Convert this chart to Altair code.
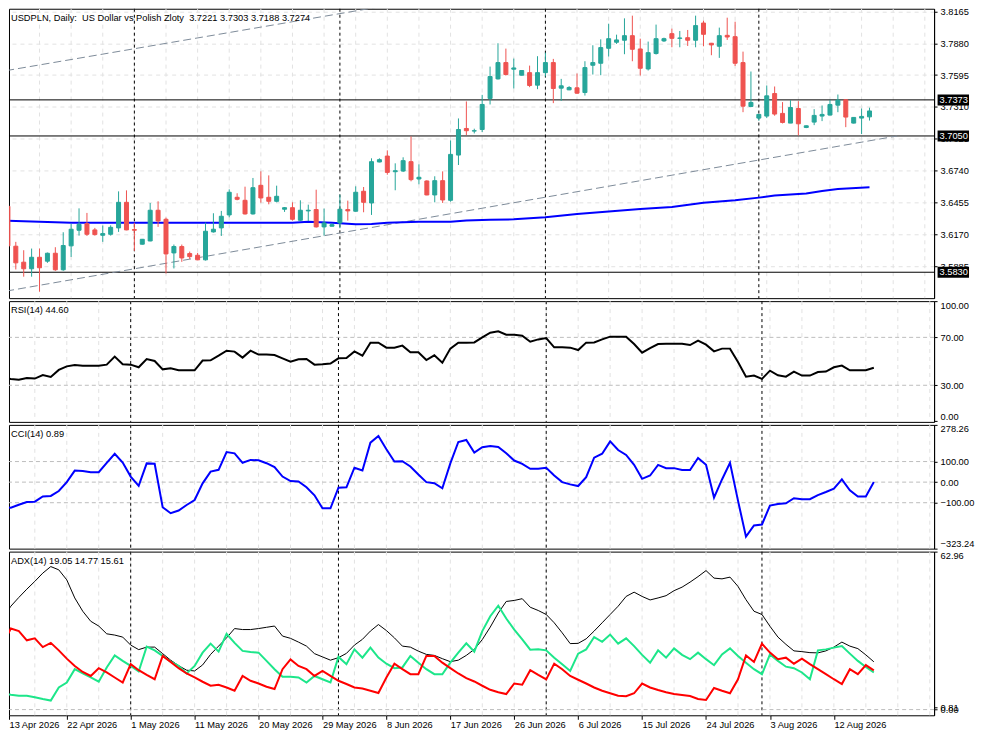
import json
import altair as alt
import pandas as pd

FONT = "Liberation Sans"
FS = 9.3
UP, DOWN = "#26a69a", "#ef5350"

TITLE = "USDPLN, Daily:\u00a0 US Dollar vs Polish Zloty\u00a0 3.7221 3.7303 3.7188 3.7274"
RSI_TITLE = "RSI(14) 44.60"
CCI_TITLE = "CCI(14) 0.89"
ADX_TITLE = "ADX(14) 19.05 14.77 15.61"

OPEN = [3.6420, 3.6063, 3.5920, 3.5861, 3.5964, 3.5929, 3.6000, 3.5852, 3.6066, 3.6206,
        3.6265, 3.6209, 3.6161, 3.6170, 3.6227, 3.6456, 3.6212, 3.6081, 3.6110, 3.6385,
        3.6304, 3.6003, 3.6060, 3.5997, 3.5982, 3.5941, 3.6191, 3.6227, 3.6343, 3.6501,
        3.6474, 3.6352, 3.6608, 3.6501, 3.6465, 3.6394, 3.6408, 3.6295, 3.6379, 3.6391,
        3.6236, 3.6242, 3.6271, 3.6391, 3.6376, 3.6555, 3.6450, 3.6817, 3.6870, 3.6730,
        3.6736, 3.6820, 3.6665, 3.6647, 3.6522, 3.6650, 3.6474, 3.6879, 3.7117, 3.7094,
        3.7108, 3.7386, 3.7561, 3.7707, 3.7648, 3.7594, 3.7617, 3.7505, 3.7617, 3.7707,
        3.7478, 3.7463, 3.7481, 3.7439, 3.7683, 3.7701, 3.7835, 3.7889, 3.7907, 3.7948,
        3.7829, 3.7650, 3.7788, 3.7901, 3.7966, 3.7924, 3.7930, 3.7907, 3.8061, 3.7880,
        3.7853, 3.7951, 3.7939, 3.7707, 3.7314, 3.7210, 3.7228, 3.7430, 3.7252, 3.7165,
        3.7296, 3.7126, 3.7174, 3.7228, 3.7237, 3.7326, 3.7374, 3.7165, 3.7210, 3.7221]
HIGH = [3.6430, 3.6102, 3.6027, 3.6042, 3.6042, 3.6006, 3.6054, 3.6188, 3.6265, 3.6402,
        3.6361, 3.6227, 3.6248, 3.6250, 3.6554, 3.6563, 3.6274, 3.6128, 3.6450, 3.6465,
        3.6319, 3.6078, 3.6078, 3.6015, 3.6003, 3.6274, 3.6358, 3.6379, 3.6572, 3.6537,
        3.6596, 3.6674, 3.6733, 3.6697, 3.6605, 3.6414, 3.6456, 3.6474, 3.6435, 3.6569,
        3.6400, 3.6268, 3.6525, 3.6471, 3.6599, 3.6593, 3.6850, 3.6850, 3.6921, 3.6805,
        3.6859, 3.7046, 3.6796, 3.6653, 3.6689, 3.6733, 3.7010, 3.7207, 3.7359, 3.7115,
        3.7418, 3.7671, 3.7880, 3.7832, 3.7743, 3.7639, 3.7680, 3.7764, 3.7796, 3.7740,
        3.7561, 3.7496, 3.7609, 3.7719, 3.7862, 3.7915, 3.8055, 3.7957, 3.8103, 3.8127,
        3.7921, 3.7895, 3.8047, 3.7930, 3.8011, 3.7990, 3.7999, 3.8127, 3.8082, 3.7883,
        3.8020, 3.8109, 3.8073, 3.7805, 3.7627, 3.7248, 3.7502, 3.7493, 3.7353, 3.7371,
        3.7362, 3.7144, 3.7290, 3.7323, 3.7374, 3.7421, 3.7377, 3.7219, 3.7296, 3.7303]
LOW = [3.6050, 3.5855, 3.5790, 3.5790, 3.5656, 3.5914, 3.5843, 3.5843, 3.5967, 3.6158,
       3.6155, 3.6158, 3.6102, 3.6158, 3.6191, 3.6206, 3.6021, 3.6078, 3.6107, 3.6236,
       3.5819, 3.5864, 3.5923, 3.5949, 3.5938, 3.5935, 3.6185, 3.6155, 3.6322, 3.6474,
       3.6346, 3.6346, 3.6453, 3.6438, 3.6456, 3.6370, 3.6292, 3.6289, 3.6289, 3.6230,
       3.6158, 3.6239, 3.6224, 3.6292, 3.6373, 3.6367, 3.6343, 3.6814, 3.6703, 3.6564,
       3.6727, 3.6644, 3.6617, 3.6519, 3.6456, 3.6450, 3.6462, 3.6790, 3.7058, 3.7073,
       3.7085, 3.7332, 3.7555, 3.7591, 3.7475, 3.7591, 3.7487, 3.7469, 3.7582, 3.7344,
       3.7365, 3.7460, 3.7427, 3.7412, 3.7600, 3.7594, 3.7761, 3.7874, 3.7782, 3.7719,
       3.7591, 3.7636, 3.7779, 3.7892, 3.7844, 3.7844, 3.7856, 3.7844, 3.7853, 3.7773,
       3.7749, 3.7910, 3.7677, 3.7263, 3.7308, 3.7186, 3.7210, 3.7231, 3.7162, 3.7165,
       3.7055, 3.7120, 3.7147, 3.7183, 3.7234, 3.7263, 3.7129, 3.7162, 3.7067, 3.7188]
CLOSE = [3.6066, 3.5914, 3.5861, 3.5964, 3.5870, 3.6000, 3.5852, 3.6069, 3.6215, 3.6259,
         3.6170, 3.6167, 3.6176, 3.6232, 3.6456, 3.6209, 3.6206, 3.6125, 3.6385, 3.6289,
         3.5994, 3.6060, 3.5958, 3.5970, 3.5941, 3.6197, 3.6215, 3.6331, 3.6546, 3.6483,
         3.6352, 3.6587, 3.6495, 3.6465, 3.6510, 3.6408, 3.6304, 3.6385, 3.6385, 3.6236,
         3.6271, 3.6256, 3.6394, 3.6379, 3.6546, 3.6456, 3.6820, 3.6838, 3.6724, 3.6739,
         3.6829, 3.6659, 3.6680, 3.6522, 3.6650, 3.6477, 3.6885, 3.7108, 3.7097, 3.7097,
         3.7332, 3.7582, 3.7707, 3.7600, 3.7659, 3.7636, 3.7502, 3.7617, 3.7707, 3.7475,
         3.7499, 3.7484, 3.7433, 3.7662, 3.7707, 3.7841, 3.7921, 3.7910, 3.7948, 3.7826,
         3.7656, 3.7796, 3.7921, 3.7921, 3.7924, 3.7927, 3.7907, 3.8038, 3.7960, 3.7865,
         3.7948, 3.7936, 3.7701, 3.7317, 3.7350, 3.7243, 3.7409, 3.7246, 3.7171, 3.7305,
         3.7159, 3.7141, 3.7234, 3.7243, 3.7332, 3.7371, 3.7219, 3.7216, 3.7225, 3.7274]

MA_BAR = [0, 4, 8, 20, 30, 36, 38, 41, 44, 46, 48, 52, 56, 58, 61, 64, 68, 72, 76, 80,
          84, 88, 92, 95, 97, 101, 103, 105, 109]
MA_VAL = [3.6290, 3.6281, 3.6274, 3.6274, 3.6274, 3.6274, 3.6281, 3.6272, 3.6260, 3.6262,
          3.6272, 3.6281, 3.6281, 3.6293, 3.6299, 3.6304, 3.6322, 3.6352, 3.6373, 3.6397,
          3.6415, 3.6453, 3.6474, 3.6498, 3.6516, 3.6534, 3.6558, 3.6576, 3.6590]

TREND_LINE = ["upper", "upper", "lower", "lower"]
TREND_BAR = [-0.22, 60.0, -0.22, 112.5]
TREND_PRICE = [3.7635, 3.8363, 3.5661, 3.7050]

LEVELS = [3.7373, 3.7050, 3.5830]
LEVEL_LABELS = ["3.7373", "3.7050", "3.5830"]
PRICE_TICKS = [3.5885, 3.6170, 3.6455, 3.6740, 3.7025, 3.7310, 3.7595, 3.7880, 3.8165]

RSI = [36.1, 35.3, 34.7, 36.1, 35.6, 38.6, 36.9, 42.8, 45.8, 46.9,
       46.4, 46.4, 46.4, 47.2, 53.9, 47.5, 47.2, 45.0, 51.9, 50.3,
       43.3, 44.2, 42.5, 42.5, 42.5, 50.6, 50.8, 54.7, 58.9, 58.1,
       53.1, 58.9, 55.6, 55.6, 55.3, 52.5, 49.7, 51.7, 51.9, 47.2,
       47.5, 48.1, 52.5, 52.8, 58.3, 54.7, 65.6, 65.6, 61.4, 61.4,
       63.1, 57.5, 57.5, 51.1, 55.0, 48.9, 60.6, 65.6, 65.6, 65.8,
       70.0, 73.9, 75.0, 72.2, 72.2, 71.4, 66.4, 68.3, 69.4, 61.7,
       61.7, 61.4, 59.4, 65.6, 65.8, 68.3, 70.6, 70.6, 70.6, 64.4,
       57.2, 61.1, 64.4, 64.7, 64.7, 64.7, 63.6, 67.2, 63.9, 58.3,
       60.6, 60.6, 49.4, 37.2, 38.1, 35.3, 42.2, 38.3, 37.2, 41.4,
       38.1, 38.1, 41.1, 41.4, 45.0, 46.4, 42.5, 42.5, 42.5, 44.6]
CCI = [-121, -124, -110, -97, -95, -70, -67, -43, 0, 56,
       54, 48, 48, 94, 138, 95, 27, -18, 91, 89,
       -122, -151, -138, -111, -87, -6, 51, 60, 146, 140,
       94, 108, 106, 92, 73, 27, 5, 3, -25, -64,
       -127, -127, -27, -25, 70, 57, 192, 224, 160, 100,
       102, 76, 37, 0, -5, -30, 91, 195, 205, 144,
       170, 176, 171, 140, 105, 89, 65, 65, 70, 32,
       0, -11, -19, 24, 119, 138, 198, 156, 132, 84,
       16, 32, 84, 68, 68, 59, 59, 117, 84, -75,
       13, 94, -90, -265, -211, -206, -114, -106, -103, -78,
       -83, -83, -63, -48, -32, 13, -40, -70, -70, 0.89]
ADX = [36.5, 41.2, 44.7, 48.0, 51.1, 54.4, 57.0, 55.7, 51.7, 44.5,
       39.2, 35.2, 33.3, 30.2, 29.7, 28.9, 25.7, 23.9, 24.9, 24.9,
       22.3, 19.7, 17.5, 15.7, 15.4, 17.8, 22.0, 25.3, 28.6, 32.3,
       31.9, 31.9, 32.3, 32.8, 33.3, 29.3, 28.4, 26.9, 25.3, 22.3,
       21.0, 19.7, 20.7, 22.4, 25.7, 28.0, 31.3, 33.9, 31.5, 28.6,
       25.3, 24.9, 23.3, 22.0, 21.6, 20.3, 19.1, 19.7, 21.6, 24.0,
       27.9, 32.9, 38.5, 43.1, 43.5, 44.2, 40.8, 39.5, 37.9, 34.6,
       30.6, 26.3, 26.4, 28.2, 31.3, 34.6, 37.9, 41.2, 45.1, 46.8,
       45.1, 43.7, 44.5, 45.4, 47.4, 48.8, 50.8, 53.0, 55.4, 52.4,
       52.1, 52.8, 49.1, 43.8, 39.2, 37.9, 33.2, 28.9, 26.0, 23.4,
       23.1, 22.7, 22.6, 23.4, 24.9, 26.9, 25.3, 24.3, 21.8, 19.05]
PDI = [6.6, 5.9, 5.5, 5.5, 4.9, 4.2, 3.6, 8.8, 10.8, 16.1,
       14.4, 12.8, 11.1, 16.8, 21.6, 19.4, 17.4, 15.2, 25.1, 23.6,
       21.4, 19.1, 17.4, 14.4, 17.4, 22.7, 26.3, 23.1, 30.2, 26.6,
       23.4, 23.0, 22.7, 19.4, 16.1, 13.1, 13.1, 12.8, 10.8, 13.4,
       12.1, 10.8, 21.0, 18.1, 24.0, 20.7, 24.7, 20.7, 18.3, 16.5,
       16.8, 21.4, 18.7, 16.1, 14.1, 14.1, 18.7, 22.7, 26.4, 23.1,
       31.3, 37.2, 41.4, 36.3, 31.9, 28.0, 23.9, 24.0, 23.6, 20.7,
       18.1, 15.4, 22.3, 24.0, 28.9, 27.0, 29.9, 26.3, 28.4, 25.3,
       21.8, 18.7, 23.6, 20.7, 24.4, 21.8, 20.1, 22.7, 20.1, 17.7,
       22.0, 24.4, 21.4, 18.7, 16.1, 14.1, 22.0, 19.4, 17.1, 16.5,
       14.8, 12.1, 23.6, 24.0, 24.7, 25.3, 22.3, 19.4, 17.0, 14.77]
MDI = [26.0, 32.3, 31.3, 27.6, 28.4, 24.9, 26.6, 23.6, 20.3, 17.4,
       15.0, 13.4, 16.5, 14.8, 12.8, 10.8, 18.1, 15.7, 13.8, 12.1,
       21.4, 19.0, 16.5, 14.4, 12.8, 11.1, 9.5, 9.9, 8.8, 7.5,
       13.4, 11.5, 10.4, 9.1, 8.2, 16.1, 20.0, 17.4, 16.1, 13.4,
       15.4, 13.4, 11.5, 10.2, 8.8, 8.4, 7.5, 6.6, 12.8, 18.3,
       16.1, 14.1, 14.1, 21.4, 21.4, 18.7, 16.5, 14.4, 12.5, 11.2,
       9.5, 7.9, 6.9, 6.2, 10.4, 9.9, 15.7, 13.8, 12.0, 18.3,
       16.1, 13.4, 11.9, 10.4, 8.8, 7.5, 6.5, 5.5, 5.3, 6.5,
       10.4, 8.8, 7.8, 6.9, 6.2, 5.8, 5.4, 4.2, 3.8, 8.6,
       7.5, 6.5, 12.1, 21.6, 19.0, 26.3, 22.7, 20.1, 20.7, 18.3,
       20.3, 18.1, 16.1, 14.1, 12.1, 10.2, 16.1, 14.1, 17.7, 15.61]

DATE_BARS = [0, 8, 16, 24, 32, 40, 48, 56, 64, 72, 80, 88, 96, 104]
DATE_LABELS = ["13 Apr 2026", "22 Apr 2026", "1 May 2026", "11 May 2026", "20 May 2026",
               "29 May 2026", "8 Jun 2026", "17 Jun 2026", "26 Jun 2026", "6 Jul 2026",
               "15 Jul 2026", "24 Jul 2026", "3 Aug 2026", "12 Aug 2026"]
SEPARATORS = [16, 42, 68, 95]
GRID_BARS = list(range(4, 117, 4))

BAR = list(range(len(CLOSE)))

# ---------------------------------------------------------------- layout
W = 927
H_MAIN, H_RSI, H_CCI, H_ADX = 290, 121, 124, 164
X0, X1 = 0.77, 116.54
xs = alt.Scale(domain=[X0, X1], nice=False, zero=False)

candles = pd.DataFrame({"bar": BAR, "open": OPEN, "high": HIGH, "low": LOW, "close": CLOSE})
candles["dir"] = ["up" if c >= o else "down" for o, c in zip(OPEN, CLOSE)]
ind = pd.DataFrame({"bar": BAR, "rsi": RSI, "cci": CCI, "adx": ADX, "pdi": PDI, "mdi": MDI})
ma = pd.DataFrame({"bar": MA_BAR, "ma": MA_VAL})
trend = pd.DataFrame({"line": TREND_LINE, "bar": TREND_BAR, "price": TREND_PRICE})
levels = pd.DataFrame({"price": LEVELS, "label": LEVEL_LABELS})
grid_df = pd.DataFrame({"bar": GRID_BARS})
sep_df = pd.DataFrame({"bar": SEPARATORS})

dir_scale = alt.Scale(domain=["up", "down"], range=[UP, DOWN])

date_values = [max(b, X0) for b in DATE_BARS]
date_axis = alt.Axis(values=date_values, labelExpr=f"{json.dumps(DATE_LABELS)}[round(datum.value / 8)]",
                     labelAlign="left", labelFlush=False, labelOverlap=False, tickSize=4,
                     labelPadding=1, domain=False, grid=False, labelBaseline="top")


def X(field="bar", axis=None):
    return alt.X(f"{field}:Q", scale=xs, axis=axis, title=None)


def grid_layers(xaxis=None):
    g = alt.Chart(grid_df).mark_rule(color="#e2e2e2", strokeDash=[4, 4], strokeWidth=1).encode(x=X(axis=xaxis))
    s = alt.Chart(sep_df).mark_rule(color="black", strokeDash=[3, 3], strokeWidth=1).encode(x=X(axis=xaxis))
    return g, s


def label_layer(text):
    return alt.Chart(pd.DataFrame({"t": [text]})).mark_text(
        align="left", baseline="middle", font=FONT, fontSize=FS, color="black"
    ).encode(x=alt.value(2), y=alt.value(9), text="t:N")


# ---------------------------------------------------------------- main panel
pscale = alt.Scale(domain=[3.5598, 3.8189], nice=False, zero=False)
paxis = alt.Axis(orient="right", values=PRICE_TICKS, format=".4f", grid=True, gridDash=[4, 4],
                 gridColor="#e2e2e2", tickSize=3, labelPadding=3, labelOverlap=False)


def PY(field):
    return alt.Y(f"{field}:Q", scale=pscale, axis=paxis, title=None)


g, s = grid_layers()
lvl = alt.Chart(levels).mark_rule(color="black", strokeWidth=1).encode(y=PY("price"))
tr = alt.Chart(trend).mark_line(color="#7d8b99", strokeDash=[8, 4], strokeWidth=1, clip=True).encode(
    x=X(), y=PY("price"), detail="line:N")
mal = alt.Chart(ma).mark_line(color="#0000ff", strokeWidth=2, clip=True).encode(x=X(), y=PY("ma"))
wick = alt.Chart(candles).mark_rule(strokeWidth=1, clip=True).encode(
    x=X(), y=PY("low"), y2="high:Q", color=alt.Color("dir:N", scale=dir_scale, legend=None))
body = alt.Chart(candles).mark_bar(size=4, strokeWidth=1, clip=True).encode(
    x=X(), y=PY("open"), y2="close:Q",
    color=alt.Color("dir:N", scale=dir_scale, legend=None),
    stroke=alt.Stroke("dir:N", scale=dir_scale, legend=None))
tagbox = alt.Chart(levels).mark_rule(color="black", strokeWidth=11, strokeCap="butt").encode(
    y=PY("price"), x=alt.value(930.5), x2=alt.value(962))
tagtxt = alt.Chart(levels).mark_text(color="white", align="left", baseline="middle", font=FONT,
                                     fontSize=FS).encode(y=PY("price"), x=alt.value(932.5), text="label:N")
main = alt.layer(g, s, lvl, tr, mal, wick, body, tagbox, tagtxt,
                 label_layer(TITLE)).properties(width=W, height=H_MAIN)


# ---------------------------------------------------------------- indicator panels
def panel(field, domain, ticks, fmt, levels_vals, lines, height, title, xaxis=None):
    sc = alt.Scale(domain=domain, nice=False, zero=False)
    ax = alt.Axis(orient="right", values=ticks, format=fmt, grid=False, tickSize=3, labelPadding=3,
                  labelFlush=True, labelOverlap=False)

    def Y(f):
        return alt.Y(f"{f}:Q", scale=sc, axis=ax, title=None)

    gg, ss = grid_layers(xaxis)
    lv = alt.Chart(pd.DataFrame({"v": levels_vals})).mark_rule(
        color="#bdbdbd", strokeDash=[4, 3], strokeWidth=1).encode(y=Y("v"))
    layers = [gg, ss, lv]
    for f, color, width in lines:
        layers.append(alt.Chart(ind).mark_line(color=color, strokeWidth=width, clip=True).encode(
            x=X(axis=xaxis), y=Y(f)))
    layers.append(label_layer(title))
    return alt.layer(*layers).properties(width=W, height=height)


rsi = panel("rsi", [-0.58, 100.25], [0, 30, 70, 100], ".2f", [30, 70],
            [("rsi", "black", 2)], H_RSI, RSI_TITLE)
cci = panel("cci", [-323.24, 278.26], [-323.24, -100, 0, 100, 278.26], ".2f", [-100, 0, 100],
            [("cci", "#0000ff", 2)], H_CCI, CCI_TITLE)
adx = panel("adx", [-2.27, 62.96], [0, 0.81, 62.96], ".2f", [0],
            [("adx", "black", 1), ("pdi", "#1de68a", 2), ("mdi", "#ff0000", 2)],
            H_ADX, ADX_TITLE, xaxis=date_axis)

chart = alt.vconcat(main, rsi, cci, adx, spacing=3, bounds="flush").properties(
    background="white", padding={"left": 0, "top": -2, "right": 0, "bottom": 0}
).configure_view(stroke="black", strokeWidth=1).configure_axis(
    labelFont=FONT, labelFontSize=FS, labelColor="black", tickColor="black",
    domainColor="black", domainWidth=1, tickWidth=1
).configure_text(font=FONT)

chart.save("out.html", embed_options={"renderer": "svg", "actions": False})
